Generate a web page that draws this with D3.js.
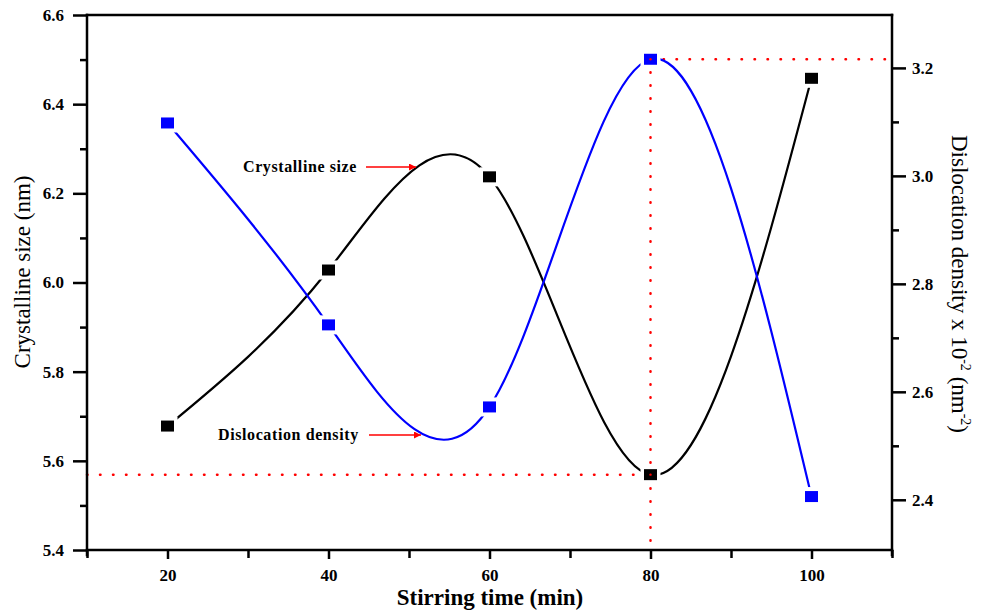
<!DOCTYPE html>
<html>
  <head>
    <meta charset="utf-8">
    <title>Crystalline size and dislocation density</title>
    <style>
      body { margin: 0; background: #fff; }
      svg text { font-family: "Liberation Serif", "DejaVu Serif", serif; }
    </style>
  </head>
  <body>
    <div id="chart"></div>
    <script src="https://cdn.jsdelivr.net/npm/d3@7/dist/d3.min.js"></script>
    <script>

        var width = 984;
        var height = 610;

        // data
        var stirTime = [20, 40, 60, 80, 100];
        var crystSize = [5.678, 6.028, 6.237, 5.569, 6.458];      // nm, left axis
        var dislDensity = [3.098, 2.724, 2.572, 3.216, 2.406];    // x10^-2 nm^-2, right axis
        var xTicks = [20, 40, 60, 80, 100];
        var leftTicks = [5.4, 5.6, 5.8, 6.0, 6.2, 6.4, 6.6];
        var rightTicks = [2.4, 2.6, 2.8, 3.0, 3.2];
        var markTime = 80;  // red guide lines

        var x = d3.scaleLinear().domain([10, 110]).range([87, 892]);
        var yL = d3.scaleLinear().domain([5.4, 6.6]).range([550, 15]);
        var yR = d3.scaleLinear().domain([2.307, 3.298]).range([550, 15]);

        var svg = d3.select('#chart')
          .append('svg')
          .attr('width', width)
          .attr('height', height);

        // red dotted guide lines
        var mi = stirTime.indexOf(markTime);
        var guides = [
          [[10, yL(crystSize[mi])], [markTime, yL(crystSize[mi])]],
          [[markTime, yR(dislDensity[mi])], [markTime, yL(5.4)]],
          [[markTime, yR(dislDensity[mi])], [110, yR(dislDensity[mi])]]
        ];
        svg.selectAll('.guide')
          .data(guides)
          .enter()
          .append('line')
          .attr('x1', function(d) { return x(d[0][0]); })
          .attr('y1', function(d) { return d[0][1]; })
          .attr('x2', function(d) { return x(d[1][0]); })
          .attr('y2', function(d) { return d[1][1]; })
          .attr('stroke', '#ff0000')
          .attr('stroke-width', 2.5)
          .attr('stroke-linecap', 'round')
          .attr('stroke-dasharray', '0.5,12.5');

        // curves
        var lineL = d3.line()
          .x(function(d, i) { return x(stirTime[i]); })
          .y(function(d) { return yL(d); })
          .curve(d3.curveNatural);
        var lineR = d3.line()
          .x(function(d, i) { return x(stirTime[i]); })
          .y(function(d) { return yR(d); })
          .curve(d3.curveNatural);

        svg.append('path')
          .attr('d', lineL(crystSize))
          .attr('fill', 'none')
          .attr('stroke', '#000')
          .attr('stroke-width', 2.2);
        svg.append('path')
          .attr('d', lineR(dislDensity))
          .attr('fill', 'none')
          .attr('stroke', '#0000ff')
          .attr('stroke-width', 2.2);

        // markers with white halo
        function markers(vals, yScale, color) {
          var g = svg.append('g');
          g.selectAll('.halo')
            .data(vals)
            .enter()
            .append('rect')
            .attr('x', function(d, i) { return x(stirTime[i]) - 10; })
            .attr('y', function(d) { return yScale(d) - 9.5; })
            .attr('width', 20)
            .attr('height', 19)
            .attr('fill', '#fff');
          g.selectAll('.mk')
            .data(vals)
            .enter()
            .append('rect')
            .attr('x', function(d, i) { return x(stirTime[i]) - 6.5; })
            .attr('y', function(d) { return yScale(d) - 5.5; })
            .attr('width', 13)
            .attr('height', 11)
            .attr('fill', color);
        }
        markers(crystSize, yL, '#000');
        markers(dislDensity, yR, '#0000ff');

        // the red dots show again over the marker at 80
        svg.append('circle')
          .attr('cx', x(markTime)).attr('cy', yL(crystSize[mi]))
          .attr('r', 1.2).attr('fill', '#ff0000');
        svg.append('circle')
          .attr('cx', x(markTime)).attr('cy', yR(dislDensity[mi]))
          .attr('r', 1.2).attr('fill', '#ff0000');

        // axes
        var axisStyle = function(g) {
          g.attr('font-family', null);
          g.select('.domain').remove();
          g.selectAll('.tick line').attr('stroke', '#000').attr('stroke-width', 2.5);
          g.selectAll('.tick text')
            .attr('fill', '#000')
            .style('font-family', '"Liberation Serif", serif')
            .style('font-weight', 'bold')
            .style('font-size', '17px');
        };

        var minorX = d3.range(10, 111, 10).filter(function(v) { return xTicks.indexOf(v) < 0; });
        var minorL = d3.range(5.5, 6.6, 0.2);
        var minorR = d3.range(2.5, 3.3, 0.2);

        svg.append('g')
          .attr('transform', 'translate(0,' + yL(5.4) + ')')
          .call(d3.axisBottom(x).tickValues(minorX).tickSize(8).tickFormat(''))
          .call(axisStyle);
        svg.append('g')
          .attr('transform', 'translate(0,' + yL(5.4) + ')')
          .call(d3.axisBottom(x).tickValues(xTicks).tickSize(9).tickPadding(10).tickFormat(d3.format('d')))
          .call(axisStyle);

        svg.append('g')
          .attr('transform', 'translate(' + x(10) + ',0)')
          .call(d3.axisLeft(yL).tickValues(minorL).tickSize(7).tickFormat(''))
          .call(axisStyle);
        svg.append('g')
          .attr('transform', 'translate(' + x(10) + ',0)')
          .call(d3.axisLeft(yL).tickValues(leftTicks).tickSize(14).tickPadding(9).tickFormat(d3.format('.1f')))
          .call(axisStyle);

        svg.append('g')
          .attr('transform', 'translate(' + x(110) + ',0)')
          .call(d3.axisRight(yR).tickValues(minorR).tickSize(7).tickFormat(''))
          .call(axisStyle);
        svg.append('g')
          .attr('transform', 'translate(' + x(110) + ',0)')
          .call(d3.axisRight(yR).tickValues(rightTicks).tickSize(14).tickPadding(6).tickFormat(d3.format('.1f')))
          .call(axisStyle);

        // frame
        var frame = [
          [x(10), yL(6.6), x(110), yL(6.6)],
          [x(10), yL(5.4), x(110), yL(5.4)],
          [x(10), yL(6.6), x(10), yL(5.4) + 5],
          [x(110), yL(6.6), x(110), yL(5.4) + 5]
        ];
        svg.selectAll('.frame')
          .data(frame)
          .enter()
          .append('line')
          .attr('x1', function(d) { return d[0]; })
          .attr('y1', function(d) { return d[1]; })
          .attr('x2', function(d) { return d[2]; })
          .attr('y2', function(d) { return d[3]; })
          .attr('stroke', '#000')
          .attr('stroke-width', 2.5)
          .attr('stroke-linecap', 'square');

        // axis titles
        svg.append('text')
          .attr('x', 490)
          .attr('y', 605)
          .attr('text-anchor', 'middle')
          .style('font-size', '23px')
          .style('font-weight', 'bold')
          .text('Stirring time (min)');

        svg.append('text')
          .attr('transform', 'translate(30,' + 272 + ') rotate(-90)')
          .attr('text-anchor', 'middle')
          .style('font-size', '23px')
          .text('Crystalline size (nm)');

        var rt = svg.append('text')
          .attr('transform', 'translate(952,' + 284 + ') rotate(90)')
          .attr('text-anchor', 'middle')
          .style('font-size', '23px');
        rt.append('tspan').text('Dislocation density x 10');
        rt.append('tspan').attr('dy', -9).style('font-size', '14px').text('-2');
        rt.append('tspan').attr('dy', 9).text(' (nm');
        rt.append('tspan').attr('dy', -9).style('font-size', '14px').text('-2');
        rt.append('tspan').attr('dy', 9).text(')');

        // annotations with red arrows
        svg.append('defs').append('marker')
          .attr('id', 'arrow')
          .attr('viewBox', '0 0 10 10')
          .attr('refX', 10).attr('refY', 5)
          .attr('markerWidth', 14).attr('markerHeight', 7)
          .attr('markerUnits', 'userSpaceOnUse')
          .attr('orient', 'auto')
          .append('path')
          .attr('d', 'M0,0 L10,5 L0,10 z')
          .attr('fill', '#ff0000');

        var notes = [
          { label: 'Crystalline size', tx: 243, ty: 172, x1: 366, x2: 416, ay: 167 },
          { label: 'Dislocation density', tx: 218, ty: 440, x1: 369, x2: 421, ay: 435 }
        ];
        svg.selectAll('.note')
          .data(notes)
          .enter()
          .append('text')
          .attr('x', function(d) { return d.tx; })
          .attr('y', function(d) { return d.ty; })
          .style('font-size', '16px')
          .style('font-weight', 'bold')
          .style('letter-spacing', '0.6px')
          .text(function(d) { return d.label; });
        svg.selectAll('.arr')
          .data(notes)
          .enter()
          .append('line')
          .attr('x1', function(d) { return d.x1; })
          .attr('x2', function(d) { return d.x2; })
          .attr('y1', function(d) { return d.ay; })
          .attr('y2', function(d) { return d.ay; })
          .attr('stroke', '#ff0000')
          .attr('stroke-width', 1.5)
          .attr('marker-end', 'url(#arrow)');

    </script>
  </body>
</html>
